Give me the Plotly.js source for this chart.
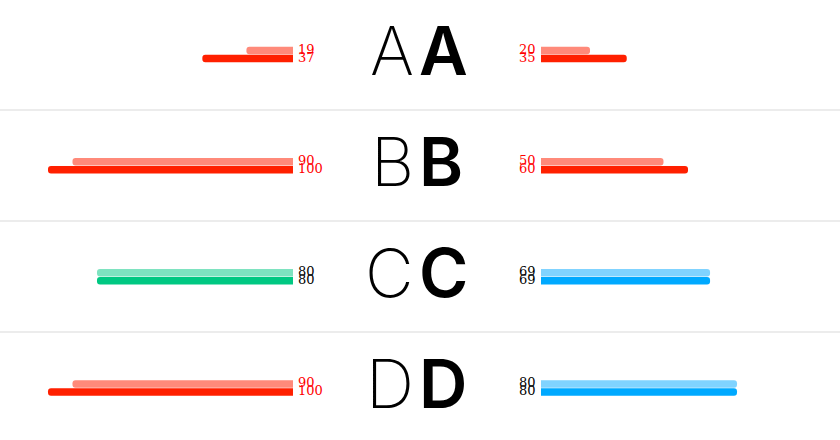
<!DOCTYPE html>
<html><head><meta charset="utf-8">
<script src="https://cdn.plot.ly/plotly-3.0.1.min.js"></script>
<style>html,body{margin:0;padding:0;background:#fff}#chart{width:840px;height:440px}</style>
</head><body><div id="chart"></div>
<script>
const categories = ['A', 'B', 'C', 'D'];
const leftLight = [19, 90, 80, 90];
const leftDark = [37, 100, 80, 100];
const rightLight = [20, 50, 69, 80];
const rightDark = [35, 60, 69, 80];
const leftScheme = ['red', 'red', 'green', 'red'];
const rightScheme = ['red', 'red', 'blue', 'blue'];

const palette = {
  red:   {light: '#ff8a7a', dark: '#ff2000', text: '#ff0000'},
  green: {light: '#7ee3c0', dark: '#00c882', text: '#000000'},
  blue:  {light: '#80d3ff', dark: '#00a9ff', text: '#000000'}
};

function barTrace(values, scheme, shade, xa) {
  return {
    type: 'bar', orientation: 'h',
    x: values, y: categories,
    xaxis: xa, yaxis: 'y',
    marker: {color: scheme.map(s => palette[s][shade])},
    hoverinfo: 'skip', showlegend: false
  };
}

const data = [
  barTrace(leftLight, leftScheme, 'light', 'x'),
  barTrace(leftDark, leftScheme, 'dark', 'x'),
  barTrace(rightLight, rightScheme, 'light', 'x2'),
  barTrace(rightDark, rightScheme, 'dark', 'x2')
];

const annotations = [];
categories.forEach((c, i) => {
  annotations.push({xref: 'paper', x: 0.5, xshift: -4, xanchor: 'right', yref: 'y', y: c, yshift: 4,
    text: c, showarrow: false, font: {family: 'Inter', size: 67, weight: 250, color: '#000'}});
  annotations.push({xref: 'paper', x: 0.5, xshift: -3, xanchor: 'left', yref: 'y', y: c, yshift: 4,
    text: c, showarrow: false, font: {family: 'Inter', size: 67, weight: 600, color: '#000'}});
  const labels = [
    [leftLight, leftScheme, 'x', 'left', 3, 5],
    [leftDark, leftScheme, 'x', 'left', 3, -3],
    [rightLight, rightScheme, 'x2', 'right', -3, 5],
    [rightDark, rightScheme, 'x2', 'right', -3, -3]
  ];
  labels.forEach(([vals, sch, xa, anchor, xs, ys]) => {
    annotations.push({xref: xa, x: 0, xanchor: anchor, xshift: xs, yref: 'y', y: c, yshift: ys,
      yanchor: 'middle', text: String(vals[i]), showarrow: false,
      font: {family: 'DejaVu Serif', size: 13, color: palette[sch[i]].text}});
  });
});

const layout = {
  width: 840, height: 440,
  margin: {l: 0, r: 0, t: 0, b: 0, pad: 0},
  paper_bgcolor: '#fff', plot_bgcolor: '#fff',
  barmode: 'group', bargap: 0.856, bargroupgap: 0.06, barcornerradius: 4,
  showlegend: false,
  xaxis: {domain: [0, 0.5], range: [119.59, -51.84], showgrid: false, zeroline: false,
          showticklabels: false, ticks: '', showline: false, fixedrange: true},
  xaxis2: {domain: [0.5, 1], range: [-49.39, 122.04], anchor: 'y', showgrid: false, zeroline: false,
           showticklabels: false, ticks: '', showline: false, fixedrange: true},
  yaxis: {type: 'category', categoryorder: 'array', categoryarray: categories,
          range: [3.468, -0.491], tickson: 'boundaries', showgrid: true,
          gridcolor: '#ececec', gridwidth: 2, showticklabels: false, ticks: '',
          zeroline: false, showline: false, fixedrange: true},
  annotations: annotations
};

Plotly.newPlot('chart', data, layout, {displayModeBar: false, staticPlot: true});
</script>
</body></html>
